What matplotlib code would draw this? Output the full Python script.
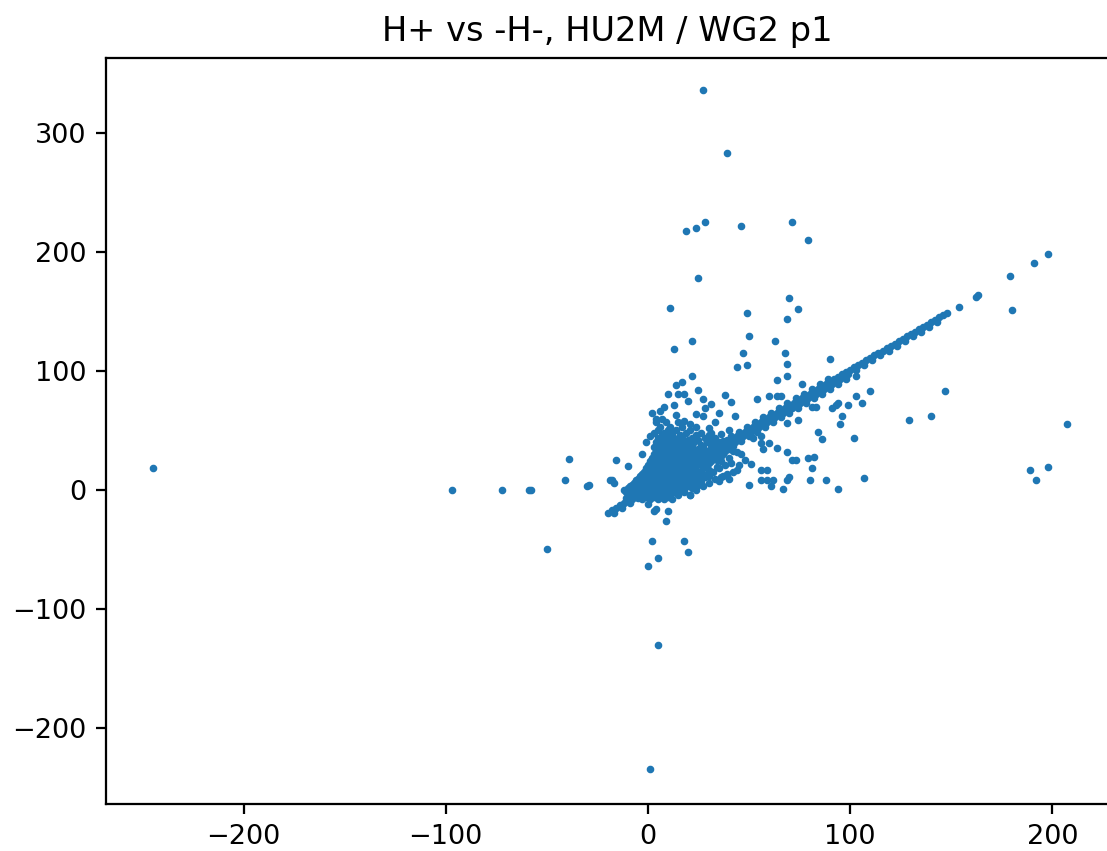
import matplotlib
matplotlib.use("Agg")
import matplotlib.pyplot as plt
import numpy as np

# pontos isolados
outlier_x = [27, 39, 19, 24, 28, 46, 71, 79, 25,
             11, 49, 70, 74, 69, 22, 50, 63, 13, 47, 68,
             44, 49, 69, 90, 64, 69, 22, 17, 76, 25,
             10, 15, 18, 41, 27, 54, 60, 64, 66,
             8, 13, 28, 4, 7, 27, 24, 11, 9,
             198, 191, 179, 180, 163, 162, 154, 110, 103, 106,
             103, 94, 99, 96, 95, 147, 129, 140, 102, 207,
             189, 192, 198, 81, 83, 91, 93, 84, 86, 56,
             57, 56, 60, 64, 69, 71, 73, 79, 82, 81,
             51, 56, 59, 56, 59, 62, 70, 69, 80, 88,
             94, 107, 67, 61, 50, 69, 74, 52,
             -245, -97, -72, -59, -58, -41, -39, -30, -29, -50,
             -16, -18, -17, -10, -6, -19,
             0, 3, 10, 9, 2, 18, 20, 5, 0, 5, 1, 21, 11, 4,
             2, 6, 14, 18, 21, 30, 33, 36, 40, 14, 20, 31, 35, 43, 38, -3, -1, 1]
outlier_y = [336, 283, 218, 220, 225, 222, 225, 210, 178,
             153, 149, 161, 152, 144, 125, 129, 125, 118, 115, 115,
             103, 105, 106, 110, 92, 96, 96, 91, 89, 84,
             81, 81, 81, 74, 76, 76, 79, 79, 79,
             70, 71, 69, 60, 60, 62, 64, 52, 48,
             198, 191, 180, 151, 164, 162, 154, 83, 79, 73,
             96, 73, 71, 62, 55, 83, 59, 62, 44, 55,
             17, 8, 19, 70, 70, 69, 71, 49, 43, 45,
             34, 39, 39, 35, 32, 25, 25, 27, 28, 18,
             22, 17, 17, 8, 8, 8, 11, 8, 8, 8,
             1, 10, 1, 3, 4, 56, 59, 44,
             18, 0, 0, 0, 0, 8, 26, 3, 4, -50,
             25, 8, 6, 20, 8, 8,
             -12, -18, -18, -26, -43, -43, -52, -57, -64, -130, -235, -4, -4, -16,
             65, 66, 63, 58, 55, 52, 57, 47, 50, 88, 75, 72, 65, 62, 80, 30, 40, 45]

# a reta H+ = -H-
diag_x = [-20, -18, -16, -14, -12, -10, -8, -6, -4, -2, 0, 2, 4, 6, 8, 10, 12, 14, 16, 18,
          20, 22, 24, 26, 28, 30, 32, 34, 36, 38, 40, 42, 44, 46, 48, 50, 52, 54, 56, 58,
          60, 62, 64, 66, 68, 70, 72, 74, 76, 78, 80, 82, 84, 86, 88, 90, 92, 94, 96, 98,
          100, 102, 104, 106, 108, 110, 112, 114, 116, 118, 120, 122, 124, 126, 128, 130,
          132, 134, 136, 138, 140, 142, 144, 146, 148]
diag_y = [-19, -17, -15, -13, -11, -9, -7, -5, -3, -1, 1, 3, 5, 7, 9, 11, 13, 15, 17, 19,
          21, 23, 25, 27, 29, 31, 33, 35, 37, 39, 41, 43, 45, 47, 49, 51, 53, 55, 57, 59,
          61, 63, 65, 67, 69, 71, 73, 75, 77, 79, 81, 83, 85, 87, 89, 91, 93, 95, 97, 99,
          101, 103, 105, 107, 109, 111, 113, 115, 117, 119, 121, 123, 125, 127, 129, 131,
          133, 135, 137, 139, 141, 143, 145, 147, 149]
diag2_x = [-17, -13, -9, -5, -1, 3, 7, 11, 15, 19, 23, 27, 31, 35, 39, 43, 47, 51, 55, 59,
           63, 67, 71, 75, 79, 83, 87, 91, 95, 99, 103, 107, 111, 115, 119, 123, 127, 131,
           135, 139, 143]
diag2_y = [-19, -15, -11, -7, -3, 1, 5, 9, 13, 17, 21, 25, 29, 33, 37, 41, 45, 49, 53, 57,
           61, 65, 69, 73, 77, 81, 85, 89, 93, 97, 101, 105, 109, 113, 117, 121, 125, 129,
           133, 137, 141]
diag3_x = [-11, -7, -3, 1, 5, 9, 13, 17, 21, 25, 29, 33, 37, 41, 45, 49, 53, 57, 61, 65,
           69, 73, 77, 81, 85, 89]
diag3_y = [-7, -3, 1, 5, 9, 13, 17, 21, 25, 29, 33, 37, 41, 45, 49, 53, 57, 61, 65, 69,
           73, 77, 81, 85, 89, 93]
diag4_x = [22, 26, 30, 34, 38, 42, 46, 50, 54, 58, 62, 66, 70, 74, 78, 82, 86, 90, 94, 98]
diag4_y = [17, 21, 25, 29, 33, 37, 41, 45, 49, 53, 57, 61, 65, 69, 73, 77, 81, 85, 89, 93]

# nuvem densa perto da origem: nivel de y e os x de cada nivel
nuvem_y = [-8, -6, -4, -2, 0, 1.5, 3, 4.5, 6, 7.5, 9, 10.5, 12, 13.5, 15, 16.5, 18, 19.5,
           21, 22.5, 24, 25.5, 27, 28.5, 30, 31.5, 33, 34.5, 36, 38, 40, 42, 44, 46, 48,
           50, 53, 57]
nuvem_x = [
    [-8, -3, 1, 5, 8, 12],
    [-6, -1, 3, 6, 10],
    [-10, -6, -2, 2, 4, 7, 11, 15, 21],
    [-11, -7, -4, 0, 3, 5, 9, 13, 18],
    [-12, -8, -5, -2, 0, 2, 4, 6, 9, 12, 15, 18, 24],
    [-10, -6, -3, -1, 1, 3, 5, 8, 11, 14, 17, 22],
    [-9, -4, -1, 1, 3, 5, 7, 10, 13, 16, 20, 27],
    [-8, -5, -2, 1, 3, 5, 7, 9, 12, 15, 19, 25],
    [-7, -3, 0, 2, 4, 6, 8, 11, 14, 17, 22, 30],
    [-6, -2, 1, 3, 5, 7, 10, 13, 16, 20, 26, 35],
    [-5, -1, 1, 3, 5, 7, 9, 12, 15, 19, 24, 33, 40],
    [-4, 0, 2, 4, 6, 9, 11, 14, 18, 22, 28, 36],
    [-4, 0, 2, 4, 6, 8, 10, 13, 16, 20, 25, 30, 37],
    [-3, 1, 3, 5, 8, 10, 12, 15, 19, 23, 29, 39],
    [-2, 1, 3, 5, 7, 9, 11, 14, 17, 21, 26, 32, 42],
    [-1, 2, 4, 7, 9, 11, 13, 16, 20, 24, 30, 44],
    [-1, 2, 4, 6, 8, 10, 12, 15, 18, 22, 27, 35],
    [0, 3, 6, 8, 10, 13, 16, 19, 23, 28, 34],
    [0, 3, 5, 7, 9, 11, 14, 17, 20, 24, 29, 38, 45],
    [2, 4, 6, 9, 12, 15, 18, 21, 25, 30, 41],
    [1, 4, 6, 8, 10, 13, 16, 19, 22, 26, 31, 36],
    [3, 5, 8, 11, 14, 17, 20, 23, 27, 34, 48],
    [2, 5, 7, 9, 12, 15, 18, 21, 25, 28, 33, 40],
    [3, 7, 10, 13, 16, 19, 22, 26, 30, 36],
    [3, 6, 8, 11, 14, 17, 20, 24, 27, 32, 37, 46],
    [5, 9, 12, 15, 18, 22, 25, 29, 34, 44],
    [4, 7, 10, 13, 16, 19, 23, 26, 30, 35, 42],
    [5, 8, 11, 14, 17, 21, 25, 33, 40],
    [3, 6, 9, 12, 15, 18, 22, 27, 31, 38],
    [7, 10, 13, 17, 21, 26, 33],
    [4, 8, 11, 14, 18, 23, 29, 35, 43],
    [6, 10, 15, 20, 25, 31, 39],
    [5, 9, 13, 17, 22, 28, 33],
    [7, 11, 16, 24, 30],
    [3, 8, 12, 19, 26, 31],
    [5, 10, 14, 21],
    [6, 11, 17, 24],
    [4, 9, 15],
]

cx = [x for linha in nuvem_x for x in linha]
cy = [y for y, linha in zip(nuvem_y, nuvem_x) for _ in linha]

xs = np.concatenate([outlier_x, diag_x, diag2_x, diag3_x, diag4_x, cx])
ys = np.concatenate([outlier_y, diag_y, diag2_y, diag3_y, diag4_y, cy])

k = 2.02  # escala da imagem original
fig = plt.figure(figsize=(11.07, 8.51), dpi=100)
ax = fig.add_axes([106 / 1107, 47 / 851, 1003 / 1107, 746 / 851])
ax.scatter(xs, ys, s=12, linewidths=2, color="#1f77b4")
ax.set_xlim(-268, 228)
ax.set_ylim(-264, 363)
ax.set_xticks([-200, -100, 0, 100, 200])
ax.set_yticks([-200, -100, 0, 100, 200, 300])
ax.tick_params(labelsize=19.5, length=3.5 * k, width=0.8 * k, pad=3.5 * k)
for sp in ax.spines.values():
    sp.set_linewidth(0.8 * k)
ax.set_title("H+ vs -H-, HU2M / WG2 p1", fontsize=24.2, pad=6 * k)

fig.savefig("out.png", dpi=100)
